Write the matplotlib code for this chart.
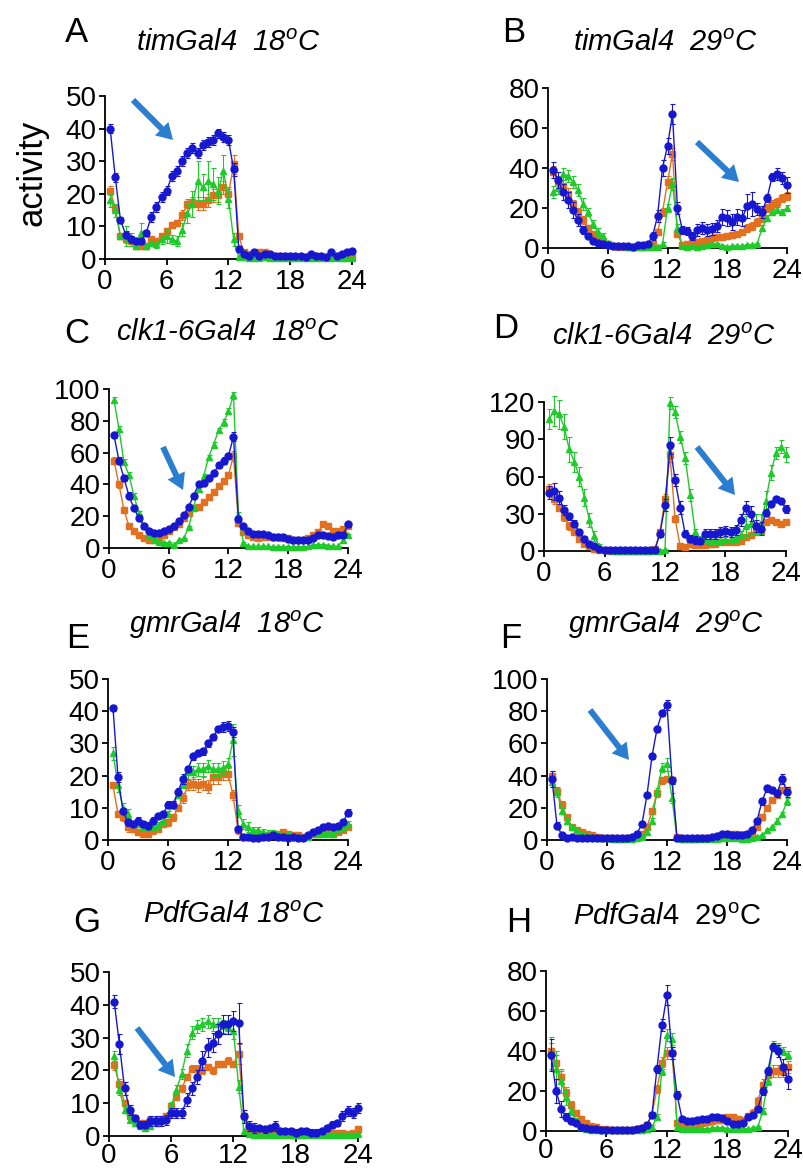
import matplotlib
matplotlib.use("Agg")
import matplotlib.pyplot as plt
from matplotlib.patches import FancyArrow
import numpy as np

plt.rcParams['font.family'] = ['Liberation Sans', 'DejaVu Sans']
plt.rcParams['mathtext.fontset'] = 'custom'
plt.rcParams['mathtext.rm'] = 'Liberation Sans'
plt.rcParams['mathtext.it'] = 'Liberation Sans:italic'

# ---------------- data ----------------
hours = [0.5 * (i + 1) for i in range(48)]
xticks = [0, 6, 12, 18, 24]

A_blue = [40, 25, 12, 7.5, 6, 5.5, 5.5, 8, 13, 16, 19, 21,
          25.5, 27, 30, 32.5, 34, 32.5, 35, 36, 36.5, 38.5, 37.5, 36.5,
          27.5, 3, 1.5, 1, 2, 1, 1.5, 1.5, 1, 1, 1, 1,
          1, 1, 0.5, 1.5, 1, 1, 0.5, 2, 1, 1.5, 2, 2.5]
A_blue_err = [1.5, 1.5, 1, 1, 1, 1, 1, 1, 1.5, 1.5, 1.5, 1.5,
              1.5, 1.5, 1.5, 1.5, 1.5, 1.5, 1.5, 1.5, 1.5, 1.5, 1.5, 1.5,
              2, 1, 0.5, 0.5, 0.5, 0.5, 0.5, 0.5, 0.5, 0.5, 0.5, 0.5,
              0.5, 0.5, 0.5, 0.5, 0.5, 0.5, 0.5, 0.5, 0.5, 0.5, 0.5, 0.5]
A_orange = [21, 15.5, 7, 6, 5.5, 4, 4, 4, 6, 5.5, 7, 8.5,
            10.5, 11, 13.5, 17, 17.5, 17, 17, 18, 19.5, 19.5, 22, 20,
            29, 7, 2, 1.5, 1.5, 2, 2, 1, 1, 1, 0.5, 0.5,
            0.5, 0.5, 0.5, 0.5, 1, 0.5, 0.5, 0.5, 0.5, 0.5, 0.5, 0.5]
A_orange_err = [1.5, 1.5, 1, 1, 1, 1, 1, 1, 1, 1, 1, 1,
                1, 1, 1.5, 1.5, 1.5, 2, 2, 2, 2, 2, 2, 2,
                3, 1, 0.5, 0.5, 0.5, 0.5, 0.5, 0.5, 0.5, 0.5, 0.5, 0.5,
                0.5, 0.5, 0.5, 0.5, 0.5, 0.5, 0.5, 0.5, 0.5, 0.5, 0.5, 0.5]
A_green = [18, 15, 7, 7, 6, 4, 8, 4, 5, 4.5, 6, 7,
           6, 5.5, 9, 14, 17, 24, 22, 24, 23, 21, 27, 18.5,
           6, 0.5, 0.5, 0.3, 0.3, 0.3, 0.5, 0.3, 0.3, 0.3, 0.3, 0.3,
           0.3, 0.3, 0.3, 0.3, 0.3, 0.3, 0.3, 0.3, 0.3, 0.3, 0.3, 0.3]
A_green_err = [2, 2, 1, 3, 2, 1, 3, 1, 1, 1, 1.5, 2,
               1.5, 1.5, 2, 3, 4, 6, 4, 6, 5, 4, 5, 3,
               2, 0.3, 0.3, 0.3, 0.3, 0.3, 0.3, 0.3, 0.3, 0.3, 0.3, 0.3,
               0.3, 0.3, 0.3, 0.3, 0.3, 0.3, 0.3, 0.3, 0.3, 0.3, 0.3, 0.3]

B_blue = [39, 34, 28, 24, 19, 14, 9, 6, 3.5, 2.5, 2, 1.5,
          1, 1, 1, 1, 0.5, 1.5, 1.5, 2, 6, 16, 40, 51,
          67, 20, 9, 8.5, 6, 9, 10, 9, 9.5, 11, 15.5, 15,
          13, 15.5, 15, 21, 22, 19.5, 18, 25, 35.5, 37, 35, 31.5]
B_blue_err = [4, 4, 4, 4, 4, 3, 2, 1.5, 1, 1, 0.5, 0.5,
              0.5, 0.5, 0.5, 0.5, 0.5, 1, 1, 1, 2, 3, 4, 4,
              5, 3, 2, 2, 2, 3, 3, 3, 3, 3, 4, 4,
              4, 4, 4, 6, 6, 3, 3, 2, 2, 3, 3, 4]
B_orange = [38, 33, 31, 27, 22, 18, 14, 10, 7, 5, 3, 2,
            1, 0.5, 0.5, 0.5, 0.5, 0.5, 0.5, 1, 2, 8, 18, 33,
            47, 7, 1.5, 2, 2.5, 3, 3.5, 4, 5, 5.5, 5.5, 6,
            6.5, 7, 8, 10, 11, 13, 15, 20, 22, 23, 25, 26]
B_orange_err = [3, 3, 3, 3, 2, 2, 2, 1.5, 1, 1, 0.5, 0.5,
                0.5, 0.5, 0.5, 0.5, 0.5, 0.5, 0.5, 0.5, 1, 1.5, 2, 3,
                3, 1, 0.5, 0.5, 1, 1, 1, 1, 1.5, 1.5, 1.5, 1.5,
                1.5, 1.5, 1.5, 2, 2, 2, 2, 2, 2, 2, 2, 2]
B_green = [28, 30, 37, 36, 33, 29, 22, 18, 12, 8, 6, 2.5,
           1.5, 1, 1, 0.5, 0.5, 0.5, 0.5, 0.5, 0.5, 0.5, 2, 20,
           32, 10, 1, 0.5, 1, 0.5, 1, 1.5, 2, 2, 1, 0.5,
           1, 1, 1, 1.5, 1.5, 2, 10, 15, 18, 19, 18, 20]
B_green_err = [3, 3, 3, 3, 3, 3, 3, 2, 2, 2, 1.5, 1,
               0.5, 0.5, 0.5, 0.5, 0.5, 0.5, 0.5, 0.5, 0.5, 0.5, 1, 2,
               3, 2, 0.5, 0.5, 0.5, 0.5, 0.5, 0.5, 0.5, 0.5, 0.5, 0.5,
               0.5, 0.5, 0.5, 0.5, 0.5, 0.5, 1.5, 1.5, 1.5, 1.5, 1.5, 1.5]

C_blue = [71, 55, 44, 33, 25, 19, 14, 11, 9.5, 9.5, 11, 12,
          14, 17, 21, 26, 33, 40, 41, 44, 47, 52, 55, 58,
          70, 18, 14, 11, 9, 9, 8.5, 8, 7, 7, 7, 5.5,
          5, 5, 5, 5, 6, 8, 8, 7.5, 7, 8, 8, 15]
C_blue_err = [2, 2, 2, 2, 1.5, 1.5, 1, 1, 1, 1, 1, 1,
              1, 1, 1, 1, 1.5, 1.5, 1.5, 1.5, 1.5, 1.5, 2, 2,
              3, 1.5, 1, 1, 1, 1, 1, 1, 1, 1, 1, 1,
              1, 1, 1, 1, 1, 1, 1, 1, 1, 1, 1, 1.5]
C_orange = [55, 40, 24, 14, 11, 8, 6, 5, 5, 6, 8, 11,
            13, 15, 19, 22, 25, 26, 29, 32, 35, 39, 42, 46,
            58, 16, 10, 8, 7, 6, 7, 7, 7, 7, 6, 6,
            5, 5, 5, 6, 8, 10, 15, 14, 11, 11, 12, 14]
C_orange_err = [2, 2, 1.5, 1, 1, 1, 1, 1, 1, 1, 1, 1,
                1, 1, 1, 1, 1, 1, 1, 1, 1, 1.5, 1.5, 1.5,
                3, 1.5, 1, 1, 1, 1, 1, 1, 1, 1, 1, 1,
                1, 1, 1, 1, 1, 1, 1, 1, 1, 1, 1, 1]
C_green = [93, 75, 54, 46, 33, 22, 14, 8, 5, 4, 3, 3,
           2, 5, 6, 13, 26, 37, 45, 57, 65, 74, 79, 86,
           96, 21, 3, 1, 1, 1, 1, 1, 0.5, 0.5, 0.5, 0.5,
           0.5, 0.5, 0.5, 1, 2, 2, 2, 1.5, 1, 1, 5, 8]
C_green_err = [2, 2, 2, 2, 1.5, 1.5, 1, 1, 1, 0.5, 0.5, 0.5,
               0.5, 0.5, 0.5, 1, 1, 1.5, 1.5, 1.5, 1.5, 1.5, 2, 2,
               2, 1.5, 0.5, 0.5, 0.5, 0.5, 0.5, 0.5, 0.5, 0.5, 0.5, 0.5,
               0.5, 0.5, 0.5, 0.5, 0.5, 0.5, 0.5, 0.5, 0.5, 0.5, 1, 1]

D_blue = [47, 48, 43, 33, 28, 22, 15, 10, 6, 4, 2, 1,
          0.5, 0.5, 0.5, 0.5, 0.5, 0.5, 0.5, 0.5, 0.5, 1, 14, 37,
          85, 57, 35, 14, 10, 9, 8, 14, 14, 14, 15, 16,
          15, 17, 25, 35, 30, 20, 18, 31, 38, 42, 40, 34]
D_blue_err = [5, 7, 5, 4, 3, 3, 2, 2, 1, 1, 0.5, 0.5,
              0.3, 0.3, 0.3, 0.3, 0.3, 0.3, 0.3, 0.3, 0.3, 0.5, 3, 5,
              7, 5, 5, 3, 3, 3, 2, 4, 4, 4, 4, 4,
              4, 4, 5, 5, 6, 5, 5, 3, 2, 2, 2, 3]
D_orange = [50, 42, 35, 27, 20, 15, 10, 6, 4, 2, 1, 0.5,
            0.3, 0.3, 0.3, 0.3, 0.3, 0.3, 0.3, 0.3, 0.3, 2, 15, 42,
            77, 26, 4, 3, 6, 5, 5, 5, 6, 6, 7, 7,
            7, 7, 8, 11, 13, 15, 16, 23, 25, 23, 22, 23]
D_orange_err = [4, 4, 3, 3, 3, 2, 2, 1, 1, 0.5, 0.5, 0.3,
                0.3, 0.3, 0.3, 0.3, 0.3, 0.3, 0.3, 0.3, 0.3, 0.5, 2, 4,
                5, 3, 1, 1, 1, 1, 1, 1, 1, 1, 1, 1,
                1, 1, 1, 1.5, 1.5, 2, 2, 2, 2, 2, 2, 2]
D_green = [106, 113, 110, 100, 82, 72, 60, 43, 25, 12, 4, 1,
           0.5, 0.3, 0.3, 0.3, 0.3, 0.3, 0.3, 0.3, 0.3, 0.3, 0.3, 1,
           119, 112, 92, 75, 45, 15, 10, 9, 8, 8, 8, 9,
           9, 10, 13, 20, 22, 22, 22, 40, 63, 79, 84, 78]
D_green_err = [8, 12, 12, 10, 10, 8, 8, 7, 6, 4, 2, 1,
               0.3, 0.3, 0.3, 0.3, 0.3, 0.3, 0.3, 0.3, 0.3, 0.3, 0.3, 0.5,
               5, 5, 5, 5, 5, 3, 2, 2, 2, 2, 2, 2,
               2, 2, 3, 8, 8, 8, 8, 8, 6, 5, 5, 6]

E_blue = [41, 19.5, 9, 5.5, 5, 6, 5, 4.5, 6, 7.5, 8, 11,
          11, 15, 19, 22, 26, 27, 27.5, 30, 32, 34.5, 35, 35.5,
          33.5, 3.5, 1, 1, 0.5, 0.5, 1, 1, 1.5, 1, 1, 0.5,
          1, 0.5, 0.5, 1.5, 2.5, 3, 4, 4.5, 4, 4.5, 5.5, 8.5]
E_blue_err = [1, 1.5, 1, 1, 1, 1, 1, 1, 1, 1, 1, 1,
              1, 1, 1.5, 1, 1, 1, 1, 1, 1, 1, 1.5, 1.5,
              1.5, 1, 0.5, 0.5, 0.5, 0.5, 0.5, 0.5, 0.5, 0.5, 0.5, 0.5,
              0.5, 0.5, 0.5, 0.5, 0.5, 0.5, 0.5, 0.5, 0.5, 0.5, 0.5, 1]
E_orange = [17, 8, 7, 4, 3.5, 2.5, 2, 2, 3, 3.5, 5, 5.5,
            7, 10, 13, 17, 17.5, 17, 17.5, 16.5, 19.5, 19.5, 20.5, 20.5,
            14, 3, 1, 1, 1, 1.5, 1.5, 1.5, 2, 2, 2.5, 2,
            1.5, 1.5, 1, 1, 2, 2, 2.5, 2.5, 2, 2.5, 3, 4]
E_orange_err = [1, 1, 1, 1.5, 1, 1, 1, 1, 1, 1, 1, 1,
                1, 1, 1.5, 1.5, 2, 2, 2, 2, 2, 2, 2, 2,
                1.5, 1, 0.5, 0.5, 0.5, 0.5, 0.5, 0.5, 0.5, 0.5, 0.5, 0.5,
                0.5, 0.5, 0.5, 0.5, 0.5, 0.5, 0.5, 0.5, 0.5, 0.5, 0.5, 0.5]
E_green = [27, 17, 10, 8, 5, 5, 4, 4, 4, 4.5, 6, 8,
           11, 14, 17.5, 21, 21, 22, 22, 23, 22, 22, 22.5, 23.5,
           31, 9, 5, 4, 3, 3, 2.5, 2, 2, 1.5, 1, 1.5,
           1, 1, 1, 1, 2, 2, 2, 2, 2, 3, 4, 5]
E_green_err = [2, 2, 1.5, 1.5, 1, 1, 1, 1, 1, 1, 1, 1,
               1, 1, 1.5, 2, 2, 2, 2, 2, 2, 2, 2, 2,
               5, 2, 1.5, 1.5, 1, 1, 1, 1, 1, 1, 1, 1,
               0.5, 0.5, 0.5, 0.5, 0.5, 0.5, 0.5, 0.5, 0.5, 0.5, 1, 1]

F_blue = [38, 9, 3, 1, 2, 1.5, 1.5, 1.5, 1, 1, 1, 1,
          1, 1, 1, 1, 2, 4, 10, 28, 52, 69, 79, 84,
          37, 1, 1, 1, 1, 1, 1, 1.5, 2, 2.5, 3.5, 3.5,
          3, 3, 3, 4, 6, 12, 24, 32, 31, 29, 38, 30]
F_blue_err = [5, 2, 1, 0.5, 0.5, 0.5, 0.5, 0.5, 0.5, 0.5, 0.5, 0.5,
              0.5, 0.5, 0.5, 0.5, 0.5, 1, 1, 1.5, 1.5, 2, 2, 3,
              2, 0.5, 0.5, 0.5, 0.5, 0.5, 0.5, 0.5, 0.5, 0.5, 0.5, 0.5,
              0.5, 0.5, 0.5, 0.5, 1, 1.5, 2, 2, 2, 2, 3, 3]
F_orange = [40, 30, 22, 14, 8, 6, 5, 4, 3, 2, 1.5, 1,
            1, 0.5, 0.5, 1, 1, 2, 4, 8, 18, 29, 37, 38,
            37, 2, 0.5, 0.5, 0.5, 0.5, 1, 1, 1.5, 2, 2.5, 3.5,
            4, 3.5, 3, 3.5, 4, 8, 14, 20, 25, 28, 31, 31]
F_orange_err = [3, 2, 2, 1.5, 1, 1, 1, 0.5, 0.5, 0.5, 0.5, 0.5,
                0.5, 0.5, 0.5, 0.5, 0.5, 0.5, 0.5, 1, 1.5, 2, 2, 2,
                2, 0.5, 0.5, 0.5, 0.5, 0.5, 0.5, 0.5, 0.5, 0.5, 0.5, 0.5,
                0.5, 0.5, 0.5, 0.5, 0.5, 1, 1.5, 2, 2, 2, 2, 2]
F_green = [36, 30, 18, 12, 8, 6, 4, 3, 2, 1.5, 1, 1,
           0.5, 0.5, 0.5, 0.5, 0.5, 1, 2, 5, 12, 30, 45, 47,
           26, 1, 0.5, 0.5, 0.5, 0.5, 0.5, 0.5, 0.5, 0.5, 1, 1,
           1, 1, 0.5, 0.5, 1, 2, 3, 6, 8, 12, 16, 24]
F_green_err = [3, 3, 2, 1.5, 1, 1, 0.5, 0.5, 0.5, 0.5, 0.5, 0.5,
               0.5, 0.5, 0.5, 0.5, 0.5, 0.5, 0.5, 1, 1.5, 2, 3, 4,
               3, 0.5, 0.5, 0.5, 0.5, 0.5, 0.5, 0.5, 0.5, 0.5, 0.5, 0.5,
               0.5, 0.5, 0.5, 0.5, 0.5, 0.5, 0.5, 1, 1, 1.5, 1.5, 2]

G_blue = [41, 28, 14.5, 8, 5.5, 3.5, 3.5, 4.5, 4.5, 4.5, 5, 7,
          7, 7, 11, 14.5, 18, 23, 27, 28.5, 31, 34, 34, 35,
          34.5, 6, 3, 2.5, 2.5, 2, 2.5, 3, 1.5, 1.5, 1.5, 1,
          1.5, 1.5, 1, 1, 1.5, 2.5, 3.5, 4, 6, 7.5, 7, 8.5]
G_blue_err = [2, 3, 2, 1.5, 1, 1, 1, 1.5, 1.5, 1.5, 1.5, 1.5,
              1.5, 1.5, 2, 2, 2, 3, 3, 3, 3, 3, 3, 3,
              6, 2, 1.5, 1.5, 1, 1, 1, 1.5, 1, 1, 1, 1,
              1, 1, 1, 1, 1, 1, 1, 1, 1.5, 1.5, 1.5, 1.5]
G_orange = [21.5, 16, 10, 6, 5, 4, 4, 5, 5, 5, 6, 9,
            12, 14.5, 18, 20.5, 20.5, 20, 21, 20, 22, 22, 23, 22,
            25, 6, 1.5, 1, 1, 1, 1, 1, 1, 1, 0.5, 0.5,
            0.5, 0.5, 0.5, 0.5, 1, 1, 1, 1, 1, 0.5, 1, 2]
G_orange_err = [1.5, 1.5, 1, 1, 1, 1, 1, 1, 1, 1, 1, 1,
                1, 1, 1, 1, 1, 1, 1, 1, 1, 1, 1, 1,
                3, 1, 0.5, 0.5, 0.5, 0.5, 0.5, 0.5, 0.5, 0.5, 0.5, 0.5,
                0.5, 0.5, 0.5, 0.5, 0.5, 0.5, 0.5, 0.5, 0.5, 0.5, 0.5, 0.5]
G_green = [24.5, 14, 8, 5, 4, 3, 2.5, 3, 4, 5, 5.5, 9,
           14, 19, 26, 31.5, 33.5, 34, 35, 34, 34, 33.5, 33, 32,
           15, 1.5, 0.5, 0.3, 0.3, 0.3, 0.3, 0.3, 0.3, 0.3, 0.3, 0.3,
           0.3, 0.3, 0.3, 0.3, 0.3, 0.3, 0.3, 0.3, 0.3, 0.3, 0.3, 0.5]
G_green_err = [1.5, 1.5, 1, 1, 1, 1, 1, 1, 1, 1, 1, 1.5,
               1.5, 1.5, 2, 2, 2, 2, 2, 2, 2, 2, 2, 2.5,
               2, 0.5, 0.3, 0.3, 0.3, 0.3, 0.3, 0.3, 0.3, 0.3, 0.3, 0.3,
               0.3, 0.3, 0.3, 0.3, 0.3, 0.3, 0.3, 0.3, 0.3, 0.3, 0.3, 0.3]

H_blue = [38, 20, 11, 7, 5, 4, 2, 1.5, 1, 1, 0.5, 0.5,
          0.5, 0.5, 0.5, 0.5, 0.5, 1, 1.5, 3, 8, 31, 53, 68,
          39, 18, 6, 5, 5, 5.5, 6, 6, 7, 7, 6.5, 5,
          3.5, 3.5, 4, 7, 8, 11, 20, 30, 42, 40, 32, 26]
H_blue_err = [8, 6, 4, 2, 1.5, 1, 0.5, 0.5, 0.5, 0.5, 0.3, 0.3,
              0.3, 0.3, 0.3, 0.3, 0.3, 0.5, 0.5, 0.5, 1, 2, 3, 5,
              3, 2, 1, 1, 1, 1, 1, 1, 1.5, 1.5, 1.5, 1.5,
              1, 1, 1, 1, 1, 1.5, 2, 2, 2, 3, 4, 5]
H_orange = [40, 34, 27, 19, 13, 9, 6, 4, 2.5, 2, 1, 1,
            0.5, 0.5, 0.5, 0.5, 0.5, 1, 1.5, 3, 8, 21, 34, 39,
            39, 4, 2, 2.5, 3, 3.5, 4, 4.5, 5, 5.5, 5.5, 7,
            7, 6, 5.5, 7.5, 9, 15, 23, 28, 30, 30, 30, 32]
H_orange_err = [4, 4, 3, 3, 2, 1.5, 1, 1, 0.5, 0.5, 0.5, 0.5,
                0.3, 0.3, 0.3, 0.3, 0.3, 0.5, 0.5, 1, 1.5, 2, 3, 3,
                3, 1, 1, 1, 1, 1, 1, 1, 1.5, 1.5, 1.5, 1.5,
                1.5, 1.5, 1.5, 1.5, 2, 2, 3, 3, 3, 3, 3, 3]
H_green = [39, 31, 25, 17, 10, 5, 2, 1, 0.5, 0.5, 0.3, 0.3,
           0.3, 0.3, 0.3, 0.3, 0.3, 0.3, 0.5, 1, 2, 7, 30, 48,
           46, 2, 1, 1, 1, 1, 1, 1, 1.5, 1.5, 1.5, 1,
           1, 1, 1, 1, 1.5, 2, 10, 25, 43, 42, 40, 38]
H_green_err = [8, 9, 6, 4, 2, 1.5, 1, 0.5, 0.3, 0.3, 0.3, 0.3,
               0.3, 0.3, 0.3, 0.3, 0.3, 0.3, 0.3, 0.5, 1, 1.5, 2, 3,
               3, 1, 0.5, 0.5, 0.5, 0.5, 0.5, 0.5, 0.5, 0.5, 0.5, 0.5,
               0.5, 0.5, 0.5, 0.5, 0.5, 0.5, 1.5, 2, 2, 2, 2, 2]

panel_letters = ['A', 'B', 'C', 'D', 'E', 'F', 'G', 'H']
panel_titles = ['timGal4  18$^{o}$C', 'timGal4  29$^{o}$C',
                'clk1-6Gal4  18$^{o}$C', 'clk1-6Gal4  29$^{o}$C',
                'gmrGal4  18$^{o}$C', 'gmrGal4  29$^{o}$C',
                'PdfGal4 18$^{o}$C', r'$\mathit{PdfGal4}$  29$^{\mathrm{o}}$C']
title_italic = [True, True, True, True, True, True, True, False]
y_max = [50, 80, 100, 120, 50, 100, 50, 80]
y_step = [10, 20, 20, 30, 10, 20, 10, 20]

series = {
    'A': (A_orange, A_orange_err, A_green, A_green_err, A_blue, A_blue_err),
    'B': (B_orange, B_orange_err, B_green, B_green_err, B_blue, B_blue_err),
    'C': (C_orange, C_orange_err, C_green, C_green_err, C_blue, C_blue_err),
    'D': (D_orange, D_orange_err, D_green, D_green_err, D_blue, D_blue_err),
    'E': (E_orange, E_orange_err, E_green, E_green_err, E_blue, E_blue_err),
    'F': (F_orange, F_orange_err, F_green, F_green_err, F_blue, F_blue_err),
    'G': (G_orange, G_orange_err, G_green, G_green_err, G_blue, G_blue_err),
    'H': (H_orange, H_orange_err, H_green, H_green_err, H_blue, H_blue_err),
}

# ---------------- layout (pixels) ----------------
W, H = 804, 1171
axes_px = {  # left, right, top, bottom
    'A': (105, 352, 96, 259), 'B': (548, 787, 88, 248),
    'C': (109, 348, 389, 548), 'D': (544, 786, 402, 551),
    'E': (108, 348, 679, 840), 'F': (547, 787, 679, 840),
    'G': (109, 358, 972, 1136), 'H': (546, 788, 971, 1131),
}
letter_px = {'A': (77, 33), 'B': (514, 33), 'C': (77, 333), 'D': (506, 329),
             'E': (78, 639), 'F': (511, 639), 'G': (87, 922), 'H': (519, 922)}
title_px = {'A': (228, 43), 'B': (665, 43), 'C': (228, 333), 'D': (664, 337),
            'E': (227, 625), 'F': (666, 625), 'G': (234, 915), 'H': (667, 917)}
arrows_px = {'A': ((133, 100), (173, 140)), 'B': ((697, 142), (739, 182)),
             'C': ((163, 447), (183, 490)), 'D': ((697, 447), (735, 495)),
             'F': ((590, 710), (629, 760)), 'G': ((137, 1028), (175, 1077))}

BLUE = '#1717CF'
ORANGE = '#E2701E'
GREEN = '#1FCB2A'
ARROW = '#2B7DD0'

fig = plt.figure(figsize=(W / 100, H / 100), dpi=100)

styles = [(ORANGE, 's', 4.5), (GREEN, '^', 4.8), (BLUE, 'o', 5.0)]

for i, key in enumerate(panel_letters):
    l, r, t, b = axes_px[key]
    ax = fig.add_axes([l / W, 1 - b / H, (r - l) / W, (b - t) / H])
    data = series[key]
    for k, (col, mk, ms) in enumerate(styles):
        vals = data[2 * k]
        errs = data[2 * k + 1]
        ax.errorbar(hours, vals, yerr=errs, color=col, marker=mk, markersize=ms,
                    linewidth=1.0, elinewidth=0.8, capsize=1.8, capthick=0.8,
                    clip_on=False, zorder=3 + k)
    ax.set_xlim(0, 24)
    ax.set_ylim(0, y_max[i])
    ax.set_xticks(xticks)
    ax.set_yticks(np.arange(0, y_max[i] + 1, y_step[i]))
    for s in ['top', 'right']:
        ax.spines[s].set_visible(False)
    for s in ['left', 'bottom']:
        ax.spines[s].set_linewidth(1.3)
    ax.tick_params(direction='out', length=4, width=1.3, labelsize=20, pad=2)
    ax.tick_params(axis='x', pad=1 if key in ('G', 'H') else 3)

    lx, ly = letter_px[key]
    fig.text(lx / W, 1 - ly / H, key, fontsize=25, ha='center', va='center')
    tx, ty = title_px[key]
    fig.text(tx / W, 1 - ty / H, panel_titles[i], fontsize=21, ha='center', va='center',
             style='italic' if title_italic[i] else 'normal')

overlay = fig.add_axes([0, 0, 1, 1], zorder=10)
overlay.set_xlim(0, W)
overlay.set_ylim(H, 0)
overlay.axis('off')
for key, ((x0, y0), (x1, y1)) in arrows_px.items():
    overlay.add_patch(FancyArrow(x0, y0, x1 - x0, y1 - y0, width=6, head_width=19,
                                 head_length=16, length_includes_head=True,
                                 color=ARROW, linewidth=0))

fig.text(32 / W, 1 - 173 / H, 'activity', fontsize=25, rotation=90, ha='center', va='center')

fig.savefig('out.png', dpi=100)
